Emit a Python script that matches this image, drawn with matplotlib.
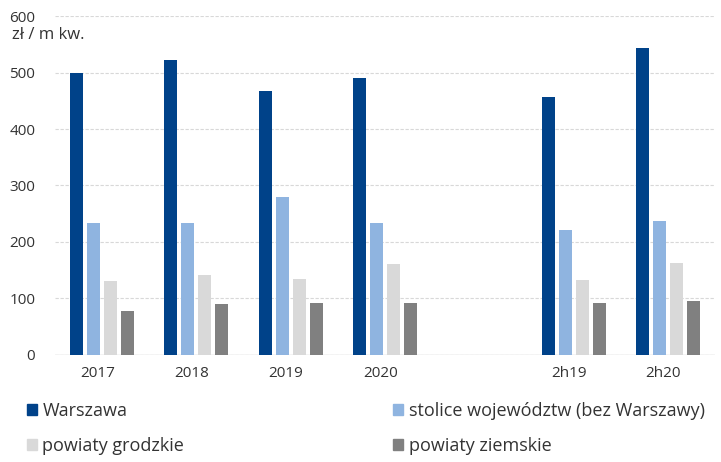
import numpy as np
import matplotlib.pyplot as plt
from matplotlib.patches import Patch

categories = ['2017', '2018', '2019', '2020', '', '2h19', '2h20']
warszawa = [500, 522, 468, 490, np.nan, 457, 543]
stolice = [233, 233, 279, 233, np.nan, 221, 237]
grodzkie = [130, 141, 134, 161, np.nan, 133, 162]
ziemskie = [77, 90, 92, 92, np.nan, 91, 96]

series = [warszawa, stolice, grodzkie, ziemskie]
names = ['Warszawa', 'stolice województw (bez Warszawy)', 'powiaty grodzkie', 'powiaty ziemskie']
colors = ['#004289', '#8fb4e0', '#d9d9d9', '#808080']

plt.rcParams['font.family'] = ['Open Sans', 'DejaVu Sans']

fig = plt.figure(figsize=(7.21, 4.62), dpi=100)
ax = fig.add_axes([0.076, 0.232, 0.916, 0.733])

x = np.arange(len(categories))
w = 0.14
step = 0.18
for i, (vals, c) in enumerate(zip(series, colors)):
    ax.bar(x + (i - 1.5) * step, vals, width=w, color=c, zorder=3)

ax.set_xlim(-0.5, len(categories) - 0.5)
ax.set_ylim(0, 600)
ax.set_yticks(range(0, 601, 100))
ax.set_xticks(x - 0.05)
ax.set_xticklabels(categories)
ax.yaxis.grid(True, color='#d8d8d8', linewidth=0.8, linestyle=(0, (3, 1.5)), zorder=0)
ax.axhline(0, color='#d0d0d0', linewidth=1, zorder=2)
for s in ax.spines.values():
    s.set_visible(False)
ax.tick_params(length=0, labelsize=11, colors='#333333')
ax.tick_params(axis='y', pad=14)
ax.tick_params(axis='x', pad=8)

fig.text(0.017, 0.915, 'zł / m kw.', fontsize=12, color='#333333')

# row-major order for the 2-column legend
order = [0, 2, 1, 3]
handles = [Patch(color=colors[k]) for k in order]
labels = [names[k] for k in order]
fig.legend(handles, labels, ncol=2, loc='lower left',
           bbox_to_anchor=(0.015, -0.02, 0.985, 0.14), mode='expand',
           frameon=False, fontsize=13, handlelength=0.55, handleheight=0.55,
           handletextpad=0.3, labelspacing=0.95, labelcolor='#333333')

plt.savefig('out.png', dpi=100)
